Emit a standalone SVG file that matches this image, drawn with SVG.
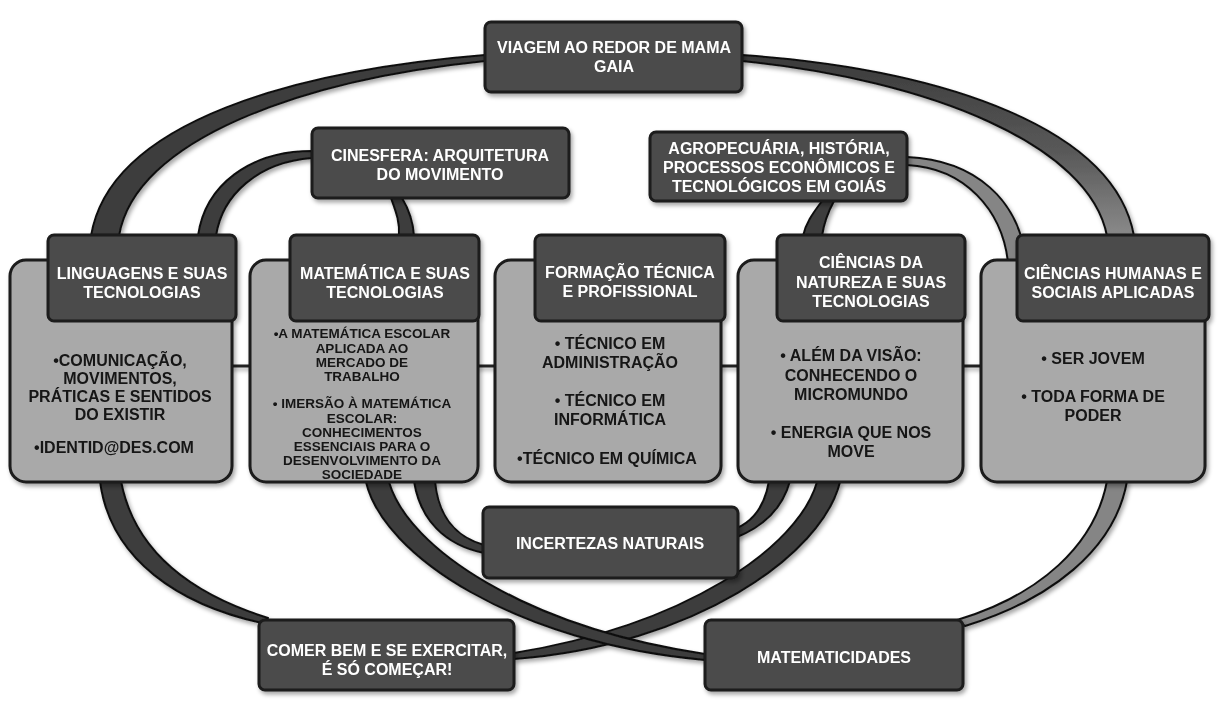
<svg xmlns="http://www.w3.org/2000/svg" width="1222" height="704" viewBox="0 0 1222 704">
<defs>
<filter id="sh" x="-10%" y="-10%" width="125%" height="130%">
<feDropShadow dx="2" dy="3" stdDeviation="2.2" flood-color="#000" flood-opacity="0.35"/>
</filter>
<linearGradient id="g2" x1="0" y1="0" x2="0" y2="1">
<stop offset="0" stop-color="#3a3a3a"/>
<stop offset="0.55" stop-color="#5a5a5a"/>
<stop offset="1" stop-color="#8a8a8a"/>
</linearGradient>
</defs>
<style>
.rib{fill:#3c3c3c;stroke:#111;stroke-width:2;stroke-linejoin:round}
.ribg{fill:#858585;stroke:#111;stroke-width:2;stroke-linejoin:round}
.hl{stroke:#222;stroke-width:3;fill:none}
.dark{fill:#4b4b4b;stroke:#1c1c1c;stroke-width:3}
.body{fill:#a9a9a9;stroke:#1a1a1a;stroke-width:3}
.wt{font-family:"Liberation Sans",Arial,sans-serif;font-weight:bold;font-size:16px;fill:#fff;text-anchor:middle}
.bt{font-family:"Liberation Sans",Arial,sans-serif;font-weight:bold;font-size:16px;fill:#151515;text-anchor:middle}
.st{font-family:"Liberation Sans",Arial,sans-serif;font-weight:bold;font-size:13.5px;fill:#151515;text-anchor:middle}
</style>
<rect x="0" y="0" width="1222" height="704" fill="#ffffff"/>

<g id="connectors" filter="url(#sh)">
<path class="rib" d="M485 55 C300 70,110 120,91 236 L119 236 C135 140,300 80,485 61 Z"/>
<path class="rib" style="fill:url(#g2)" d="M742 55 C950 70,1115 130,1134 236 L1107 236 C1090 145,930 80,742 61 Z"/>
<path class="rib" d="M312 151 C250 151,205 185,198 236 L216 236 C222 195,258 162,312 158 Z"/>
<path class="rib" d="M391 198 C396 212,400 222,399 236 L414 236 C413 220,408 208,402 198 Z"/>
<path class="rib" d="M822 201 C814 212,806 222,803 236 L822 236 C824 222,828 212,834 201 Z"/>
<path class="ribg" d="M907 157 C975 160,1020 200,1026 262 L1008 262 C1002 210,965 168,907 165 Z"/>
<path class="rib" d="M100 481 C110 560,180 605,262 623 L268 618 C195 595,135 555,121 481 Z"/>
<path class="rib" d="M414 481 C420 520,445 545,484 553 L484 545 C455 537,438 515,435 481 Z"/>
<path class="rib" d="M769 481 C765 505,755 520,737 528 L737 537 C762 527,782 510,790 481 Z"/>
<path class="rib" d="M840 482 C822 555,695 645,514 659 L514 653 C685 625,798 548,817 482 Z"/>
<path class="rib" d="M366 482 C383 555,515 643,705 660 L705 654 C525 627,408 548,389 482 Z"/>
<path class="ribg" d="M1127 481 C1115 550,1050 600,965 626 L957 620 C1040 595,1095 545,1107 481 Z"/>
<path class="hl" d="M230 366 H252 M476 366 H497 M719 366 H740 M961 366 H983"/>
</g>

<g id="viagem" filter="url(#sh)">
<rect class="dark" x="485" y="22" width="257" height="70" rx="6"/>
<text class="wt" x="614" y="53">VIAGEM AO REDOR DE MAMA</text>
<text class="wt" x="614" y="72">GAIA</text>
</g>

<g id="cinesfera" filter="url(#sh)">
<rect class="dark" x="312" y="128" width="257" height="70" rx="6"/>
<text class="wt" x="440" y="161">CINESFERA: ARQUITETURA</text>
<text class="wt" x="440" y="180">DO MOVIMENTO</text>
</g>

<g id="agro" filter="url(#sh)">
<rect class="dark" x="650" y="132" width="257" height="69" rx="6"/>
<text class="wt" x="779" y="154">AGROPECUÁRIA, HISTÓRIA,</text>
<text class="wt" x="779" y="173">PROCESSOS ECONÔMICOS E</text>
<text class="wt" x="779" y="192">TECNOLÓGICOS EM GOIÁS</text>
</g>

<g id="linguagens" filter="url(#sh)">
<rect class="body" x="10" y="260" width="222" height="222" rx="16"/>
<rect class="dark" x="48" y="235" width="188" height="86" rx="6"/>
<text class="wt" x="142" y="279">LINGUAGENS E SUAS</text>
<text class="wt" x="142" y="298">TECNOLOGIAS</text>
<text class="bt" x="120" y="366">•COMUNICAÇÃO,</text>
<text class="bt" x="120" y="384">MOVIMENTOS,</text>
<text class="bt" x="120" y="402">PRÁTICAS E SENTIDOS</text>
<text class="bt" x="120" y="420">DO EXISTIR</text>
<text class="bt" x="114" y="453">•IDENTID@DES.COM</text>
</g>

<g id="matematica" filter="url(#sh)">
<rect class="body" x="250" y="260" width="228" height="222" rx="16"/>
<rect class="dark" x="290" y="235" width="189" height="86" rx="6"/>
<text class="wt" x="385" y="279">MATEMÁTICA E SUAS</text>
<text class="wt" x="385" y="298">TECNOLOGIAS</text>
<text class="st" x="362" y="338">•A MATEMÁTICA ESCOLAR</text>
<text class="st" x="362" y="353">APLICADA AO</text>
<text class="st" x="362" y="367">MERCADO DE</text>
<text class="st" x="362" y="381">TRABALHO</text>
<text class="st" x="362" y="408">• IMERSÃO À MATEMÁTICA</text>
<text class="st" x="362" y="423">ESCOLAR:</text>
<text class="st" x="362" y="437">CONHECIMENTOS</text>
<text class="st" x="362" y="451">ESSENCIAIS PARA O</text>
<text class="st" x="362" y="465">DESENVOLVIMENTO DA</text>
<text class="st" x="362" y="479">SOCIEDADE</text>
</g>

<g id="formacao" filter="url(#sh)">
<rect class="body" x="495" y="260" width="226" height="222" rx="16"/>
<rect class="dark" x="535" y="235" width="190" height="86" rx="6"/>
<text class="wt" x="630" y="278">FORMAÇÃO TÉCNICA</text>
<text class="wt" x="630" y="297">E PROFISSIONAL</text>
<text class="bt" x="610" y="349">• TÉCNICO EM</text>
<text class="bt" x="610" y="368">ADMINISTRAÇÃO</text>
<text class="bt" x="610" y="406">• TÉCNICO EM</text>
<text class="bt" x="610" y="425">INFORMÁTICA</text>
<text class="bt" x="607" y="464">•TÉCNICO EM QUÍMICA</text>
</g>

<g id="natureza" filter="url(#sh)">
<rect class="body" x="738" y="260" width="225" height="222" rx="16"/>
<rect class="dark" x="777" y="235" width="188" height="86" rx="6"/>
<text class="wt" x="871" y="268">CIÊNCIAS DA</text>
<text class="wt" x="871" y="288">NATUREZA E SUAS</text>
<text class="wt" x="871" y="307">TECNOLOGIAS</text>
<text class="bt" x="851" y="361">• ALÉM DA VISÃO:</text>
<text class="bt" x="851" y="381">CONHECENDO O</text>
<text class="bt" x="851" y="400">MICROMUNDO</text>
<text class="bt" x="851" y="438">• ENERGIA QUE NOS</text>
<text class="bt" x="851" y="457">MOVE</text>
</g>

<g id="humanas" filter="url(#sh)">
<rect class="body" x="981" y="260" width="224" height="222" rx="16"/>
<rect class="dark" x="1017" y="235" width="192" height="86" rx="6"/>
<text class="wt" x="1113" y="279">CIÊNCIAS HUMANAS E</text>
<text class="wt" x="1113" y="298">SOCIAIS APLICADAS</text>
<text class="bt" x="1093" y="364">• SER JOVEM</text>
<text class="bt" x="1093" y="402">• TODA FORMA DE</text>
<text class="bt" x="1093" y="421">PODER</text>
</g>

<g id="incertezas" filter="url(#sh)">
<rect class="dark" x="483" y="507" width="255" height="71" rx="6"/>
<text class="wt" x="610" y="549">INCERTEZAS NATURAIS</text>
</g>

<g id="comer" filter="url(#sh)">
<rect class="dark" x="259" y="620" width="255" height="70" rx="6"/>
<text class="wt" x="387" y="656">COMER BEM E SE EXERCITAR,</text>
<text class="wt" x="387" y="675">É SÓ COMEÇAR!</text>
</g>

<g id="matematicidades" filter="url(#sh)">
<rect class="dark" x="705" y="620" width="258" height="70" rx="6"/>
<text class="wt" x="834" y="663">MATEMATICIDADES</text>
</g>
</svg>
